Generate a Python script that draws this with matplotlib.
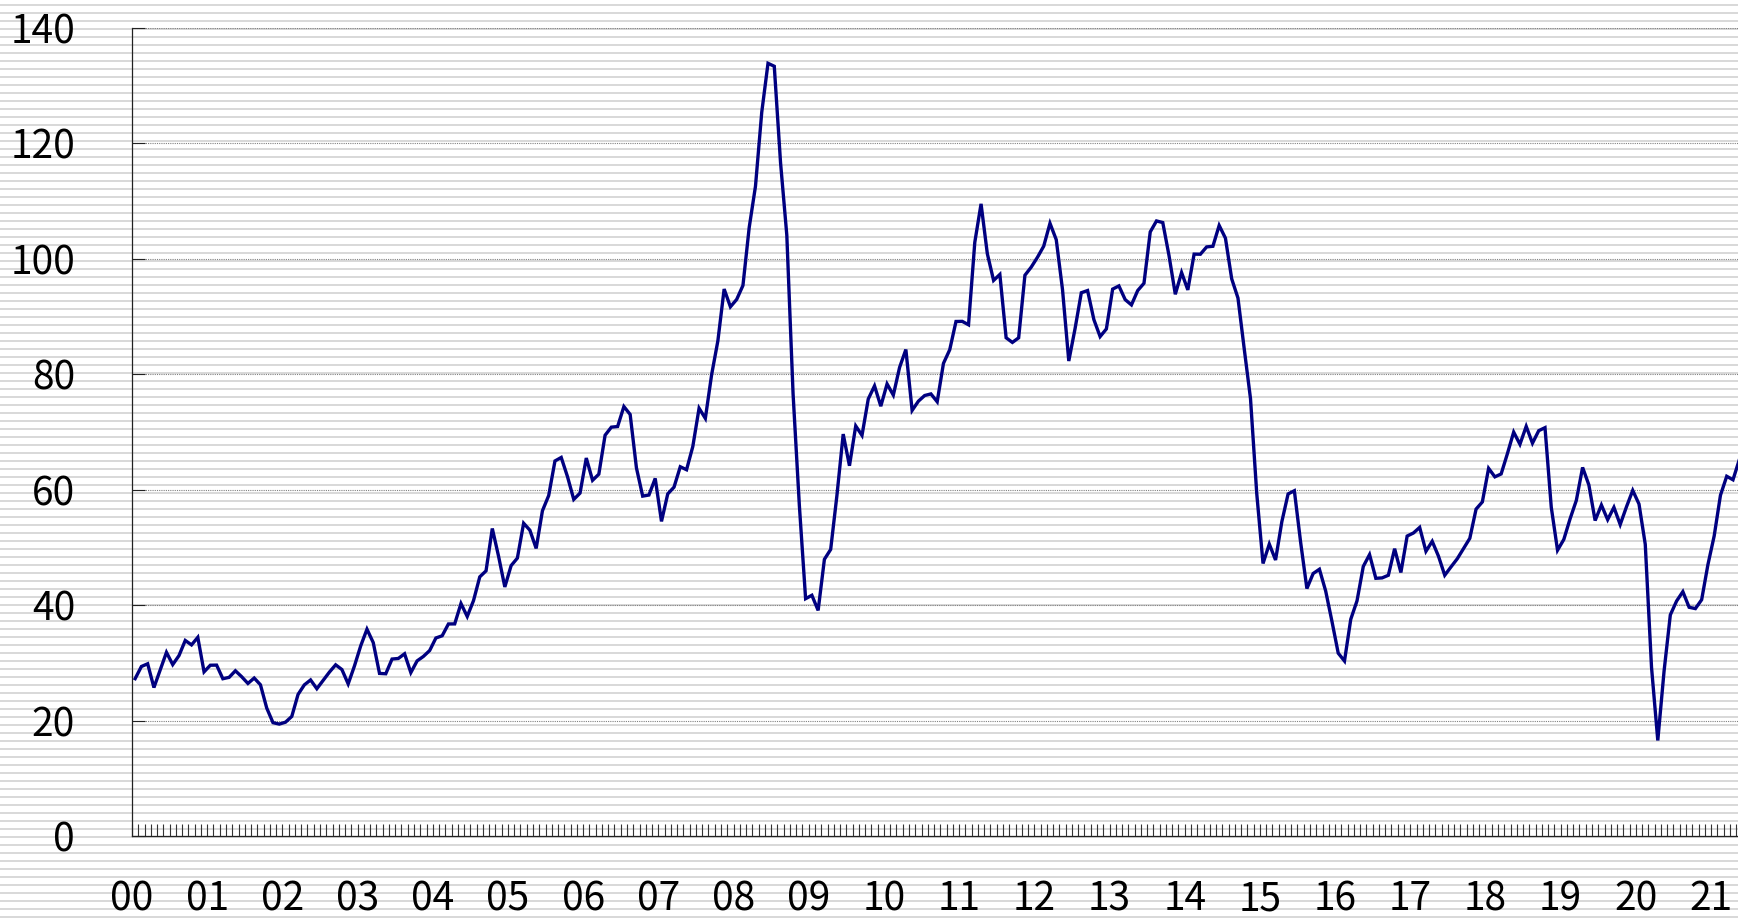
import numpy as np
import matplotlib
matplotlib.use("Agg")
import matplotlib.pyplot as plt

plt.rcParams['font.family'] = ['Noto Sans CJK JP', 'DejaVu Sans']

# 月次の原油価格（2000年1月～2021年5月）
price = [
    27.26, 29.37, 29.84, 25.72, 28.79, 31.82, 29.70, 31.26, 33.88, 33.11, 34.42, 28.44,   # 2000
    29.59, 29.61, 27.25, 27.49, 28.63, 27.60, 26.43, 27.37, 26.20, 22.17, 19.64, 19.39,   # 2001
    19.72, 20.72, 24.53, 26.18, 27.04, 25.52, 26.97, 28.39, 29.66, 28.84, 26.35, 29.46,   # 2002
    32.95, 35.83, 33.51, 28.17, 28.11, 30.66, 30.76, 31.57, 28.31, 30.34, 31.11, 32.13,   # 2003
    34.31, 34.69, 36.74, 36.75, 40.28, 38.03, 40.78, 44.90, 45.94, 53.28, 48.47, 43.15,   # 2004
    46.84, 48.15, 54.19, 52.98, 49.83, 56.35, 58.99, 64.98, 65.59, 62.26, 58.32, 59.41,   # 2005
    65.49, 61.63, 62.69, 69.44, 70.84, 70.95, 74.41, 73.04, 63.80, 58.89, 59.08, 61.96,   # 2006
    54.51, 59.28, 60.44, 63.98, 63.46, 67.49, 74.12, 72.36, 79.92, 85.80, 94.77, 91.69,   # 2007
    92.97, 95.39, 105.45, 112.58, 125.40, 133.88, 133.37, 116.67, 104.11, 76.61, 57.31, 41.12,  # 2008
    41.71, 39.09, 47.94, 49.65, 59.03, 69.64, 64.15, 71.05, 69.41, 75.72, 77.99, 74.47,   # 2009
    78.33, 76.39, 81.20, 84.29, 73.74, 75.34, 76.32, 76.60, 75.24, 81.89, 84.25, 89.15,   # 2010
    89.17, 88.58, 102.86, 109.53, 100.90, 96.26, 97.30, 86.33, 85.52, 86.32, 97.16, 98.56,  # 2011
    100.27, 102.20, 106.16, 103.32, 94.66, 82.30, 87.90, 94.13, 94.51, 89.49, 86.53, 87.86,  # 2012
    94.76, 95.31, 92.94, 92.02, 94.51, 95.77, 104.67, 106.57, 106.29, 100.54, 93.86, 97.63,  # 2013
    94.62, 100.82, 100.80, 102.07, 102.18, 105.79, 103.59, 96.54, 93.21, 84.40, 75.79, 59.29,  # 2014
    47.22, 50.58, 47.82, 54.45, 59.27, 59.82, 50.90, 42.87, 45.48, 46.22, 42.44, 37.19,   # 2015
    31.68, 30.32, 37.55, 40.75, 46.71, 48.76, 44.65, 44.72, 45.18, 49.78, 45.66, 51.97,   # 2016
    52.50, 53.47, 49.33, 51.06, 48.48, 45.18, 46.63, 48.04, 49.82, 51.58, 56.64, 57.88,   # 2017
    63.70, 62.23, 62.73, 66.25, 69.98, 67.87, 70.98, 68.06, 70.23, 70.75, 56.96, 49.52,   # 2018
    51.38, 54.95, 58.15, 63.86, 60.83, 54.66, 57.35, 54.81, 56.95, 53.96, 57.03, 59.88,   # 2019
    57.52, 50.54, 29.21, 16.55, 28.56, 38.31, 40.71, 42.34, 39.63, 39.40, 40.94, 47.02,   # 2020
    52.00, 59.04, 62.33, 61.72, 65.17,                                                    # 2021
]
year_labels = ['%02d' % y for y in range(0, 22)]
y_ticks = [0, 20, 40, 60, 80, 100, 120, 140]

W, H = 1738, 919
fig = plt.figure(figsize=(W / 100, H / 100), dpi=100)
fig.patch.set_facecolor('white')

# 背景の横縞
bg = fig.add_axes([0, 0, 1, 1], zorder=0)
bg.set_xlim(0, W)
bg.set_ylim(H, 0)
bg.axis('off')
bg.hlines(np.arange(4.5, H, 8), 0, W, color='#d9d9d9', lw=1.44)

ax = fig.add_axes([132 / W, 83 / H, 1 - 132 / W, 808 / H], zorder=1)
ax.patch.set_alpha(0)

x = np.arange(len(price)) + 0.5
ax.plot(x, price, color='#000080', lw=2.4, solid_joinstyle='miter')

ax.set_xlim(0, 256.3)
ax.set_ylim(0, 140)

ax.set_yticks(y_ticks)
ax.set_xticks(np.arange(0, 12 * len(year_labels), 12))
ax.set_xticklabels(year_labels)
ax.set_xticks(np.arange(0, 257), minor=True)

ax.yaxis.grid(True, linestyle=(0, (1, 1)), color='#808080', lw=0.8)
ax.tick_params(axis='y', direction='in', length=9.5, width=0.8, pad=41,
               labelsize=28, color='#222222')
ax.tick_params(axis='x', which='both', direction='in', length=9, width=0.8,
               color='#333333')
ax.tick_params(axis='x', pad=31, labelsize=28)

for s in ['top', 'right']:
    ax.spines[s].set_visible(False)
for s in ['left', 'bottom']:
    ax.spines[s].set_linewidth(0.9)
    ax.spines[s].set_color('#222222')

fig.savefig('out.png', dpi=100)
